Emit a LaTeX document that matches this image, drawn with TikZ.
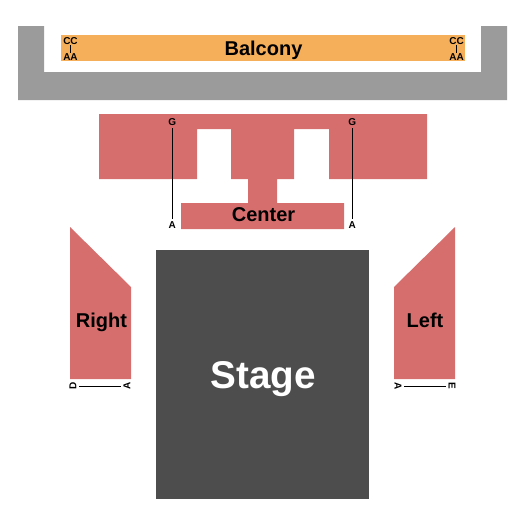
\documentclass[tikz,border=0pt]{standalone}
\usepackage{fontspec}
\setmainfont{Liberation Sans}
\definecolor{wallgray}{HTML}{9B9B9B}
\definecolor{balconyorange}{HTML}{F5AF5B}
\definecolor{sectionred}{HTML}{D76E6E}
\definecolor{stagegray}{HTML}{4D4D4D}
\tikzset{
    seclabel/.style={font=\bfseries\fontsize{15}{15}\selectfont,anchor=base,inner sep=0pt},
    rowlabel/.style={font=\bfseries\fontsize{7.5}{7.5}\selectfont,inner sep=2pt},
    tinyrow/.style={rowlabel,inner sep=0.5pt},
    rowline/.style={draw=black,line width=0.7pt}
}
\begin{document}
\begin{tikzpicture}[x=0.75pt,y=-0.75pt]
\useasboundingbox (0,0) rectangle (525,525);

% Back wall
\fill[wallgray] (18,26) -- (44,26) -- (44,72) -- (481,72) -- (481,26) -- (507,26) -- (507,100) -- (18,100) -- cycle;

% Balcony
\fill[balconyorange] (61,35) rectangle (465,61);
\node[seclabel] at (263.5,55) {Balcony};
\node[tinyrow] (ccl) at (70.5,41) {CC};
\node[tinyrow] (aal) at (70.5,57) {AA};
\draw[line width=0.6pt] (ccl) -- (aal);
\node[tinyrow] (ccr) at (456.5,41) {CC};
\node[tinyrow] (aar) at (456.5,57) {AA};
\draw[line width=0.6pt] (ccr) -- (aar);

% Center
\fill[sectionred] (99,114) -- (427,114) -- (427,179) -- (329,179) -- (329,129) -- (294,129) -- (294,179)
    -- (277,179) -- (277,203) -- (344,203) -- (344,229) -- (181,229) -- (181,203) -- (248,203) -- (248,179)
    -- (231,179) -- (231,129) -- (197,129) -- (197,179) -- (99,179) -- cycle;
\node[seclabel] at (263.5,221) {Center};
\node[rowlabel] (gl) at (172.3,122) {G};
\node[rowlabel] (al) at (172.3,225.5) {A};
\draw[rowline] (gl) -- (al);
\node[rowlabel] (gr) at (352.3,122) {G};
\node[rowlabel] (ar) at (352.3,225.5) {A};
\draw[rowline] (gr) -- (ar);

% Right
\fill[sectionred] (70,227) -- (131,287) -- (131,379) -- (70,379) -- cycle;
\node[seclabel] at (101.5,327) {Right};
\node[rowlabel,rotate=90] (dr) at (73,386) {D};
\node[rowlabel,rotate=90] (ar2) at (127,386) {A};
\draw[rowline] (dr) -- (ar2);

% Left
\fill[sectionred] (455,227) -- (394,287) -- (394,379) -- (455,379) -- cycle;
\node[seclabel] at (425,327) {Left};
\node[rowlabel,rotate=-90] (al2) at (398,386) {A};
\node[rowlabel,rotate=-90] (el) at (452,386) {E};
\draw[rowline] (al2) -- (el);

% Stage
\fill[stagegray] (156,250) rectangle (369,499);
\node[seclabel,white,font=\bfseries\fontsize{29}{29}\selectfont] at (263,388) {Stage};

\end{tikzpicture}
\end{document}
